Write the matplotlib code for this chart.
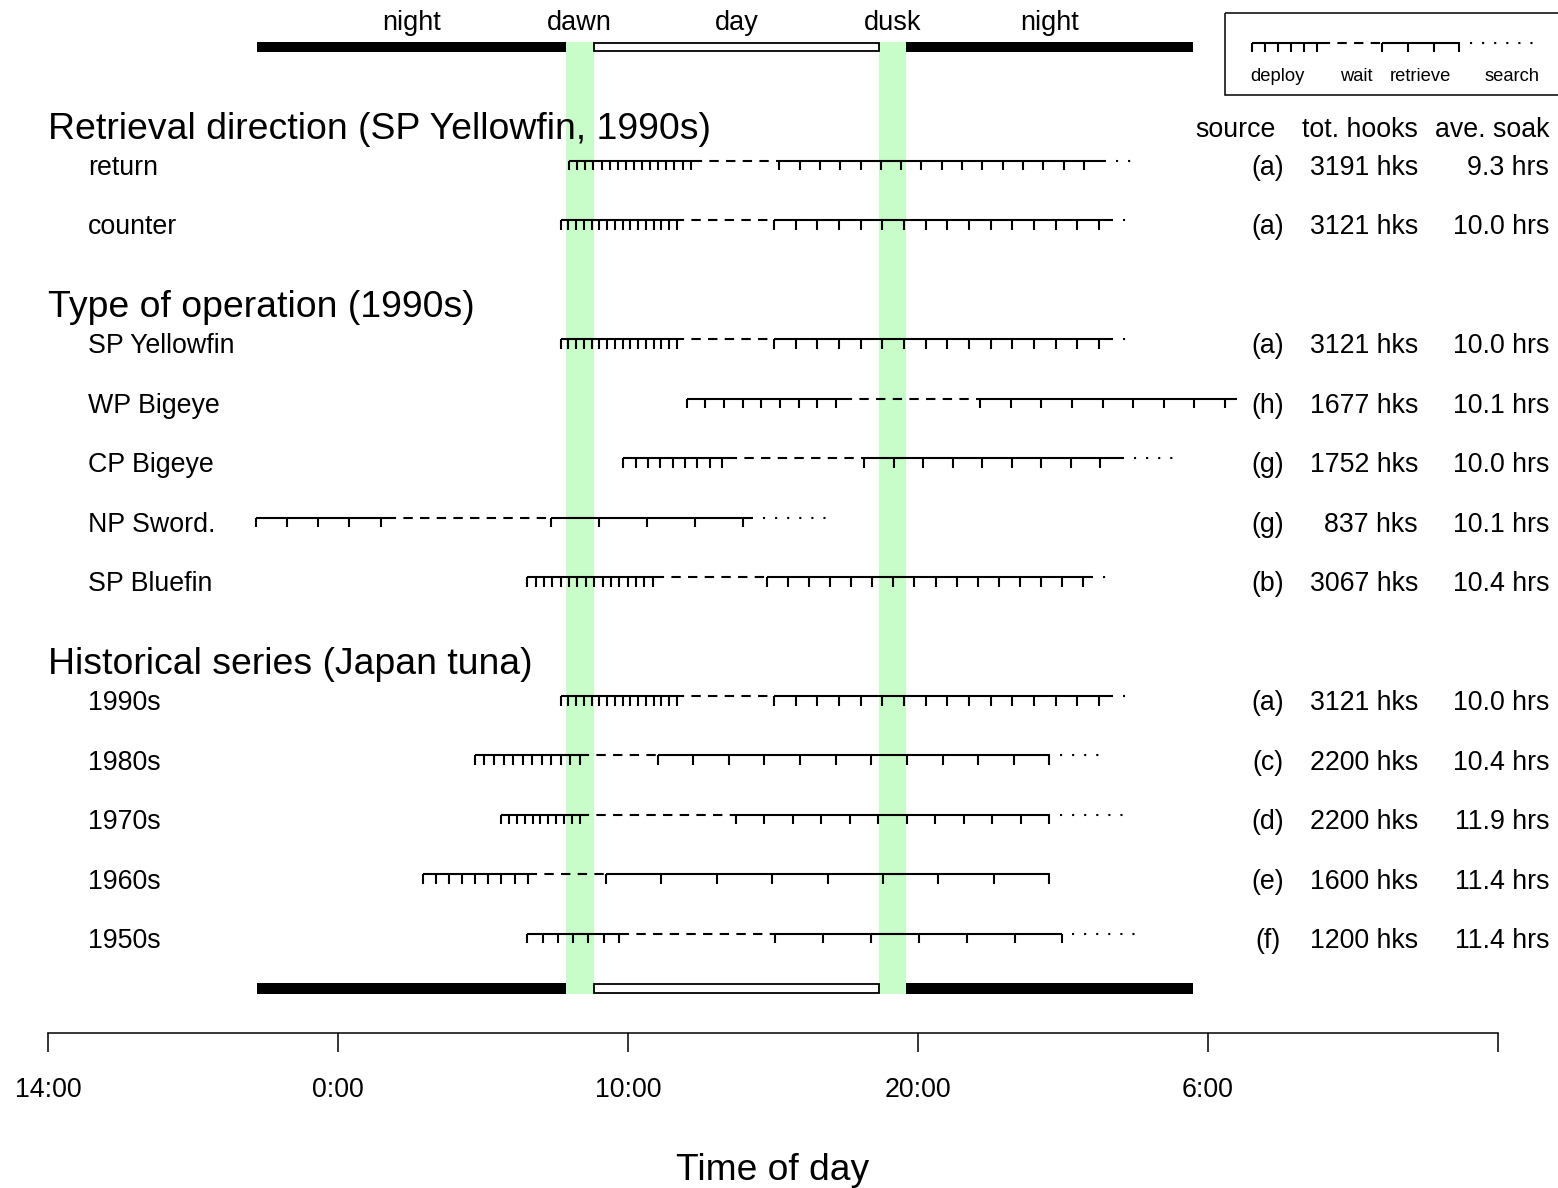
import matplotlib
matplotlib.use("Agg")
import matplotlib.pyplot as plt
from matplotlib.patches import Rectangle
import numpy as np

plt.rcParams['font.family'] = ['Liberation Sans', 'DejaVu Sans']

# time is in hours after midnight of day 1 (values > 24 are next day)
labels = ["return", "counter", "SP Yellowfin", "WP Bigeye", "CP Bigeye", "NP Sword.",
          "SP Bluefin", "1990s", "1980s", "1970s", "1960s", "1950s"]
rows = [0, 1, 3, 4, 5, 6, 7, 9, 10, 11, 12, 13]
set_start = [31.97, 31.68, 31.68, 36.02, 33.84, 21.16, 30.53, 31.68, 28.72, 29.62, 26.92, 30.53]
deploy_last = [36.16, 35.68, 35.68, 41.17, 37.24, 25.47, 34.85, 35.68, 32.34, 32.34, 30.54, 33.69]
deploy_end = [36.48, 35.86, 35.86, 41.66, 37.69, 25.93, 35.16, 35.86, 32.60, 32.60, 30.79, 33.96]
retr_start = [39.22, 39.04, 39.04, 46.14, 42.14, 31.34, 38.78, 39.04, 35.02, 37.72, 33.23, 39.07]
retr_last = [49.72, 50.24, 50.24, 54.59, 50.28, 37.96, 49.70, 50.24, 48.53, 48.53, 48.53, 48.98]
retr_end = [50.47, 50.73, 50.73, 55.00, 51.10, 38.32, 50.02, 50.73, 48.55, 48.55, 48.55, 48.98]
search_end = [51.66, 51.17, 51.17, 55.00, 52.97, 40.99, 50.79, 51.17, 50.33, 51.23, 48.55, 51.66]
n_deploy = [16, 16, 16, 9, 9, 5, 16, 16, 12, 11, 9, 7]
n_retr = [16, 16, 16, 9, 9, 5, 16, 16, 12, 12, 9, 7]
sources = ["(a)", "(a)", "(a)", "(h)", "(g)", "(g)", "(b)", "(a)", "(c)", "(d)", "(e)", "(f)"]
hooks = [3191, 3121, 3121, 1677, 1752, 837, 3067, 3121, 2200, 2200, 1600, 1200]
soak = [9.3, 10.0, 10.0, 10.1, 10.0, 10.1, 10.4, 10.0, 10.4, 11.9, 11.4, 11.4]

headings = ["Retrieval direction (SP Yellowfin, 1990s)", "Type of operation (1990s)",
            "Historical series (Japan tuna)"]
heading_rows = [0, 3, 9]

period_names = ["night", "dawn", "day", "dusk", "night"]
period_edges = [21.20, 31.85, 32.82, 42.66, 43.60, 53.47]

axis_ticks = [14, 24, 34, 44, 54, 64]
axis_labels = ["14:00", "0:00", "10:00", "20:00", "6:00", ""]

# legend sample set
leg_set = [55.51, 57.75, 58.15, 59.99, 62.67, 62.69, 65.45]
leg_n = [6, 4]
leg_names = ["deploy", "wait", "retrieve", "search"]
leg_name_x = [56.41, 59.10, 61.34, 64.48]

LW = 1.5
TICK = 0.16


def draw_set(ax, y, t0, dlast, dend, rstart, rlast, rend, send, nd, nr):
    ax.plot([t0, dend], [y, y], color='k', lw=LW, solid_capstyle='butt')
    ax.vlines(np.linspace(t0, dlast, nd), y, y + TICK, color='k', lw=LW)
    ax.plot([dend, rstart], [y, y], color='k', lw=LW, linestyle=(3.5, (4.5, 3.5)))
    ax.plot([rstart, rend], [y, y], color='k', lw=LW, solid_capstyle='butt')
    ax.vlines(np.linspace(rstart, rlast, nr), y, y + TICK, color='k', lw=LW)
    if send > rend:
        ax.plot([rend, send], [y, y], color='k', lw=LW, linestyle=(1, (1, 4.8)))


fig = plt.figure(figsize=(15.58, 11.88), dpi=100)
ax = fig.add_axes([0, 0, 1, 1])
ax.set_xlim(12.345, 66.069)
ax.set_ylim(17.272, -2.702)
ax.axis('off')

# dawn / dusk bands
green = '#c8fcc8'
for i in [1, 3]:
    ax.add_patch(Rectangle((period_edges[i], -2.0), period_edges[i + 1] - period_edges[i], 16.01,
                           fc=green, ec='none', zorder=0))

# day/night bars top and bottom
for ytop in [-2.0, 13.83]:
    for i in [0, 4]:
        ax.add_patch(Rectangle((period_edges[i], ytop), period_edges[i + 1] - period_edges[i], 0.18,
                               fc='k', ec='none', zorder=2))
    ax.add_patch(Rectangle((period_edges[2], ytop + 0.017), period_edges[3] - period_edges[2], 0.146,
                           fc='w', ec='k', lw=1.3, zorder=2))

for i, name in enumerate(period_names):
    ax.text((period_edges[i] + period_edges[i + 1]) / 2, -2.32, name, ha='center', va='center',
            fontsize=19.5)

# sets
for i in range(len(labels)):
    y = rows[i]
    draw_set(ax, y, set_start[i], deploy_last[i], deploy_end[i], retr_start[i], retr_last[i],
             retr_end[i], search_end[i], n_deploy[i], n_retr[i])
    ax.text(15.38, y + 0.12, labels[i], ha='left', va='center', fontsize=19.3)
    ax.text(56.07, y + 0.12, sources[i], ha='center', va='center', fontsize=19.3)
    ax.text(61.24, y + 0.12, f"{hooks[i]} hks", ha='right', va='center', fontsize=19.3)
    ax.text(65.76, y + 0.12, f"{soak[i]:.1f} hrs", ha='right', va='center', fontsize=19.3)

for h, r in zip(headings, heading_rows):
    ax.text(14.0, r - 0.53, h, ha='left', va='center', fontsize=26.9)

ax.text(56.34, -0.51, "source", ha='right', va='center', fontsize=19.3)
ax.text(61.24, -0.51, "tot. hooks", ha='right', va='center', fontsize=19.3)
ax.text(65.76, -0.51, "ave. soak", ha='right', va='center', fontsize=19.3)

# legend box
ax.add_patch(Rectangle((54.59, -2.478), 20, 1.373, fc='none', ec='k', lw=1.1))
draw_set(ax, -1.98, leg_set[0], leg_set[1], leg_set[2], leg_set[3], leg_set[4], leg_set[5],
         leg_set[6], leg_n[0], leg_n[1])
for name, xx in zip(leg_names, leg_name_x):
    ax.text(xx, -1.41, name, ha='center', va='center', fontsize=13.2)

# time axis
ax2 = fig.add_axes([48 / 1558, (1188 - 1033) / 1188, 1450 / 1558, 0.001])
ax2.set_xlim(14, 64)
ax2.set_xticks(axis_ticks, axis_labels)
ax2.set_yticks([])
for s in ['top', 'left', 'right']:
    ax2.spines[s].set_visible(False)
ax2.spines['bottom'].set_linewidth(1.1)
ax2.patch.set_alpha(0)
ax2.tick_params(axis='x', direction='out', length=13.7, width=1.1, labelsize=19.3, pad=18)

fig.text(773 / 1558, 1 - 1170 / 1188, "Time of day", ha='center', va='center', fontsize=26.7)

fig.savefig("out.png", dpi=100)
